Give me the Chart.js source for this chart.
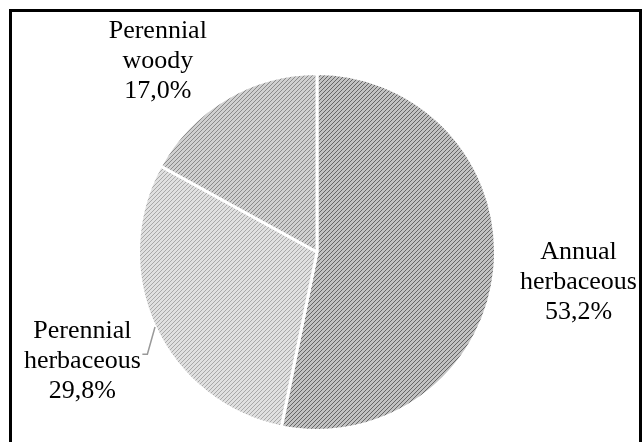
<!DOCTYPE html>
<html>
<head>
<meta charset="utf-8">
<script src="https://cdn.jsdelivr.net/npm/chart.js@4/dist/chart.umd.min.js"></script>
<style>
  html, body { margin: 0; padding: 0; background: #fff; }
  #wrap { width: 643px; height: 442px; position: relative; }
</style>
</head>
<body>
<div id="wrap"><canvas id="pieChart" width="643" height="442"></canvas></div>
<script>
var categories = [["Annual", "herbaceous"], ["Perennial", "herbaceous"], ["Perennial", "woody"]];
var shares = [53.2, 29.8, 17.0];
var shareLabels = ["53,2%", "29,8%", "17,0%"];

// hatch tiles: line colour, background colour
function hatch(line, bg) {
    var c = document.createElement("canvas");
    c.width = 4;
    c.height = 4;
    var x = c.getContext("2d");
    x.fillStyle = bg;
    x.fillRect(0, 0, 4, 4);
    x.fillStyle = line;
    for (var i = 0; i < 4; i++) {
        x.fillRect(i, 3 - i, 1, 1);
    }
    return x.createPattern(c, "repeat");
}
var fills = [
    hatch("#666666", "#c2c2c2"),
    hatch("#a8a8a8", "#e0e0e0"),
    hatch("#8a8a8a", "#d0d0d0")
];
var labelDist = [1.45, 1.43, 1.40];
var labelShift = [[4, 4], [-3, 2], [-32, 24]];

var framePlugin = {
    id: "frame",
    afterDraw: function (chart) {
        var ctx = chart.ctx;
        ctx.save();
        ctx.strokeStyle = "#000";
        ctx.lineWidth = 3;
        ctx.strokeRect(10.5, 10.5, 630, 440);
        ctx.restore();
    }
};

var labelPlugin = {
    id: "sliceLabels",
    afterDatasetsDraw: function (chart) {
        var ctx = chart.ctx;
        var arcs = chart.getDatasetMeta(0).data;
        ctx.save();
        ctx.font = "26px 'Liberation Serif', 'Times New Roman', serif";
        ctx.textAlign = "center";
        ctx.textBaseline = "middle";
        for (var i = 0; i < arcs.length; i++) {
            var a = arcs[i];
            var mid = (a.startAngle + a.endAngle) / 2;
            var r = a.outerRadius;
            var cx = a.x + Math.cos(mid) * r * labelDist[i] + labelShift[i][0];
            var cy = a.y + Math.sin(mid) * r * labelDist[i] + labelShift[i][1];
            var lines = categories[i].concat([shareLabels[i]]);
            for (var j = 0; j < lines.length; j++) {
                ctx.fillStyle = "#000";
                ctx.fillText(lines[j], cx, cy + (j - 1) * 30);
            }
            if (i == 1) {
                // leader line from the slice edge to the label
                ctx.strokeStyle = "#999999";
                ctx.lineWidth = 1.5;
                ctx.beginPath();
                ctx.moveTo(a.x + Math.cos(mid) * r, a.y + Math.sin(mid) * r);
                ctx.lineTo(cx + 65, cy - 7);
                ctx.lineTo(cx + 60, cy - 7);
                ctx.stroke();
            }
        }
        ctx.restore();
    }
};

new Chart("pieChart", {
    type: "pie",
    data: {
        labels: categories.map(function (c) { return c.join(" "); }),
        datasets: [{
            data: shares,
            backgroundColor: fills,
            borderColor: "#ffffff",
            borderWidth: 3
        }]
    },
    options: {
        responsive: false,
        animation: false,
        layout: { padding: { left: 137, right: 146, top: 72, bottom: 10 } },
        plugins: {
            legend: { display: false },
            tooltip: { enabled: false }
        }
    },
    plugins: [labelPlugin, framePlugin]
});
</script>
</body>
</html>
